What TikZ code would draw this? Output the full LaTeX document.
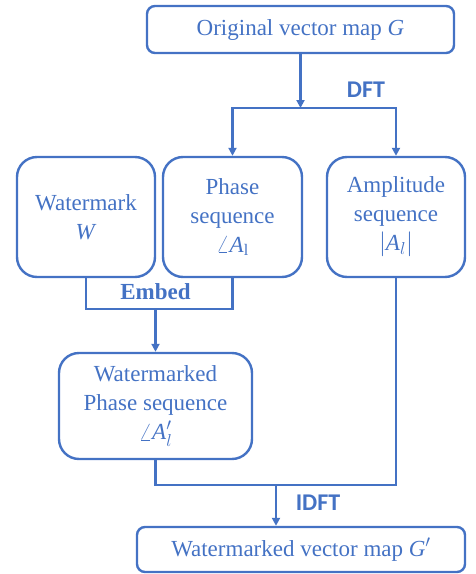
\documentclass[tikz,border=0pt]{standalone}
\usepackage{fontspec}
\setmainfont{Liberation Serif}
\newfontfamily\labelfont{Carlito}
\usetikzlibrary{arrows.meta, positioning}
\definecolor{flowBlue}{HTML}{4472C4}
\tikzset{
  box/.style={draw=flowBlue, line width=2.4pt, text=flowBlue, align=center,
              font=\fontsize{23}{29}\selectfont, inner sep=0pt},
  mapbox/.style={box, rounded corners=8pt},
  seqbox/.style={box, rounded corners=20pt},
  link/.style={draw=flowBlue, line width=2.4pt},
  arr/.style={link, -{Triangle[length=8pt,width=8pt]}},
  steplabel/.style={text=flowBlue, font=\labelfont\bfseries\fontsize{24}{28}\selectfont}
}
\begin{document}
\begin{tikzpicture}[x=1pt,y=-1pt]
  \useasboundingbox (0,0) rectangle (476,574);
  % --- boxes ---
  \node[mapbox, minimum width=307pt, minimum height=47pt] (orig) at (300.5,29.5)
    {Original vector map \textit{G}};
  \node[seqbox, minimum width=138pt, minimum height=120pt] (wm) at (86,217)
    {Watermark\\\textit{W}};
  \node[seqbox, minimum width=139pt, minimum height=120pt] (phase) at (232.5,217)
    {Phase\\sequence\\$\angle$\textit{A}$_{\mathrm{l}}$};
  \node[seqbox, minimum width=138pt, minimum height=120pt] (amp) at (396,217)
    {Amplitude\\sequence\\$|$\textit{A}$_{l}|$};
  \node[seqbox, minimum width=193pt, minimum height=106pt] (wphase) at (155.5,406)
    {Watermarked\\Phase sequence\\$\angle$\textit{A}$_{l}'$};
  \node[mapbox, minimum width=328pt, minimum height=45pt] (wmap) at (301,549.5)
    {Watermarked vector map \textit{G}$'$};
  % --- DFT split ---
  \coordinate (split) at (300.5,108);
  \draw[arr] (orig.south) -- (split);
  \draw[arr] (split) -| (phase.north);
  \draw[arr] (split) -| (amp.north);
  \node[steplabel] (dft) at (366,90) {DFT};
  % --- embedding ---
  \coordinate (join) at (155.5,309);
  \draw[link] (wm.south) |- (join) -| (phase.south);
  \draw[arr] (join) -- (wphase.north);
  \node[box, draw=none, font=\bfseries\fontsize{23}{29}\selectfont] (embed) at (155.5,292) {Embed};
  % --- IDFT merge ---
  \coordinate (merge) at (276,485);
  \draw[link] (wphase.south) |- (merge) -| (amp.south);
  \draw[arr] (merge) -- (merge |- wmap.north);
  \node[steplabel] (idft) at (318,503) {IDFT};
\end{tikzpicture}
\end{document}
